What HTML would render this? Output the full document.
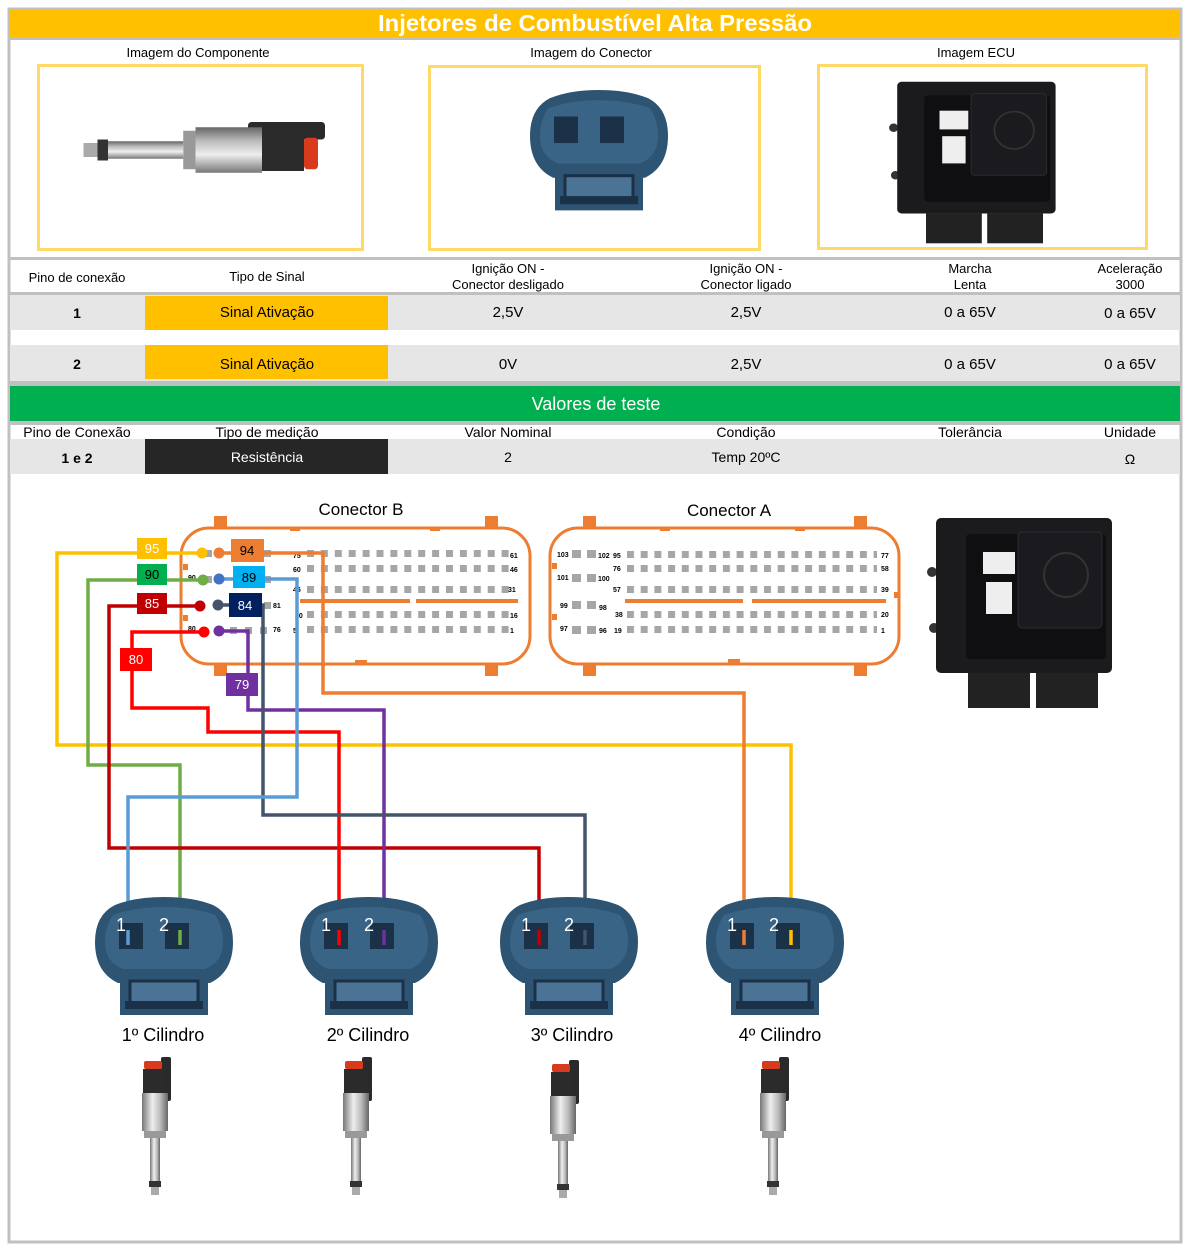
<!DOCTYPE html>
<html><head><meta charset="utf-8"><style>
html,body{margin:0;padding:0;background:#fff}
svg{display:block}
text{font-family:"Liberation Sans",sans-serif}
</style></head><body>
<svg width="1187" height="1249" viewBox="0 0 1187 1249" xmlns="http://www.w3.org/2000/svg">
<defs>
<linearGradient id="silv" x1="0" x2="1" y1="0" y2="0">
<stop offset="0" stop-color="#777"/><stop offset="0.4" stop-color="#eee"/><stop offset="0.7" stop-color="#bbb"/><stop offset="1" stop-color="#666"/>
</linearGradient>
<pattern id="pinB" x="307" y="0" width="13.9" height="1" patternUnits="userSpaceOnUse"><rect x="0" y="0" width="7" height="1" fill="#a6a6a6"/></pattern>
<pattern id="pinA" x="627" y="0" width="13.7" height="1" patternUnits="userSpaceOnUse"><rect x="0" y="0" width="7" height="1" fill="#a6a6a6"/></pattern>
<g id="conn">
<path d="M20,8 Q40,0 69,0 Q98,0 118,8 Q138,18 138,45 Q138,75 115,86 L113,86 L113,118 L25,118 L25,86 L23,86 Q0,75 0,45 Q0,18 20,8 Z" fill="#2e5474"/>
<path d="M18,18 Q40,10 69,10 Q98,10 120,18 Q128,30 128,45 Q128,65 110,72 L28,72 Q10,65 10,45 Q10,30 18,18Z" fill="#3a6486"/>
<rect x="24" y="26" width="24" height="26" fill="#1b3147"/>
<rect x="70" y="26" width="24" height="26" fill="#1b3147"/>
<rect x="35" y="84" width="68" height="22" fill="#4a7396" stroke="#1b3147" stroke-width="3"/>
<rect x="30" y="104" width="78" height="8" fill="#1b3147"/>
</g>
<g id="inj">
<rect x="26" y="0" width="10" height="44" fill="#2a2a2a" rx="2"/>
<rect x="9" y="4" width="18" height="8" fill="#d83a1e" rx="2"/>
<rect x="8" y="12" width="22" height="26" fill="#2b2b2b"/>
<rect x="7" y="36" width="26" height="38" fill="url(#silv)"/>
<rect x="9" y="74" width="22" height="7" fill="#999"/>
<rect x="15" y="81" width="10" height="44" fill="url(#silv)"/>
<rect x="14" y="124" width="12" height="6" fill="#333"/>
<rect x="16" y="130" width="8" height="8" fill="#aaa"/>
</g>
<g id="ecu">
<circle cx="4" cy="62" r="5" fill="#333"/><circle cx="6" cy="118" r="5" fill="#333"/>
<rect x="8" y="8" width="176" height="155" rx="5" fill="#1b1b1e"/>
<rect x="38" y="24" width="140" height="125" rx="4" fill="#0f0f12"/>
<rect x="90" y="22" width="84" height="96" rx="4" fill="#1a1a1f" stroke="#2c2c33"/>
<circle cx="138" cy="65" r="22" fill="none" stroke="#333" stroke-width="2"/>
<rect x="55" y="42" width="32" height="22" fill="#eee"/>
<rect x="58" y="72" width="26" height="32" fill="#eee"/>
<rect x="40" y="163" width="62" height="35" fill="#222"/>
<rect x="108" y="163" width="62" height="35" fill="#222"/>
</g>
</defs>

<rect x="9" y="9" width="1172" height="1233" fill="none" stroke="#c0c0c0" stroke-width="3"/>
<rect x="10" y="10" width="1170" height="27" fill="#ffc000"/>
<text x="595" y="31" text-anchor="middle" font-size="23" font-weight="bold" fill="#fff" textLength="434" lengthAdjust="spacingAndGlyphs">Injetores de Combustível Alta Pressão</text>
<rect x="10" y="37" width="1170" height="3" fill="#c0c0c0"/>

<text x="198" y="57" text-anchor="middle" font-size="13">Imagem do Componente</text>
<text x="591" y="57" text-anchor="middle" font-size="13">Imagem do Conector</text>
<text x="976" y="57" text-anchor="middle" font-size="13">Imagem ECU</text>
<rect x="38.5" y="65.5" width="324" height="184" fill="none" stroke="#ffd966" stroke-width="3"/>
<rect x="429.5" y="66.5" width="330" height="183" fill="none" stroke="#ffd966" stroke-width="3"/>
<rect x="818.5" y="65.5" width="328" height="183" fill="none" stroke="#ffd966" stroke-width="3"/>
<use href="#inj" transform="translate(325,150) scale(1.75) rotate(90) translate(20,0) scale(-1,1)"/>
<use href="#conn" transform="translate(530,90) scale(1,1.02)"/>
<use href="#ecu" transform="translate(890,75) scale(0.9,0.85)"/>

<rect x="10" y="257" width="1170" height="3" fill="#c0c0c0"/>
<g font-size="13" text-anchor="middle">
<text x="77" y="282">Pino de conexão</text>
<text x="267" y="281">Tipo de Sinal</text>
<text x="508" y="273">Ignição ON -</text><text x="508" y="289">Conector desligado</text>
<text x="746" y="273">Ignição ON -</text><text x="746" y="289">Conector ligado</text>
<text x="970" y="273">Marcha</text><text x="970" y="289">Lenta</text>
<text x="1130" y="273">Aceleração</text><text x="1130" y="289">3000</text>
</g>
<rect x="10" y="292" width="1170" height="3" fill="#c0c0c0"/>
<rect x="10" y="295" width="1170" height="35" fill="#e6e6e6"/>
<rect x="10" y="345" width="1170" height="36" fill="#e6e6e6"/>
<rect x="145" y="296" width="243" height="34" fill="#ffc000"/>
<rect x="145" y="345" width="243" height="34" fill="#ffc000"/>
<g font-size="15" text-anchor="middle">
<text x="77" y="318" font-weight="bold" font-size="14">1</text>
<text x="267" y="317">Sinal Ativação</text>
<text x="508" y="317">2,5V</text><text x="746" y="317">2,5V</text>
<text x="970" y="317">0 a 65V</text><text x="1130" y="318">0 a 65V</text>
<text x="77" y="369" font-weight="bold" font-size="14">2</text>
<text x="267" y="369">Sinal Ativação</text>
<text x="508" y="369">0V</text><text x="746" y="369">2,5V</text>
<text x="970" y="369">0 a 65V</text><text x="1130" y="369">0 a 65V</text>
</g>
<rect x="10" y="381" width="1170" height="5" fill="#c0c0c0"/>
<rect x="10" y="386" width="1170" height="35" fill="#00b050"/>
<text x="596" y="410" text-anchor="middle" font-size="18" fill="#fff">Valores de teste</text>
<rect x="10" y="421" width="1170" height="4" fill="#c0c0c0"/>
<rect x="10" y="439" width="1170" height="35" fill="#e6e6e6"/>
<rect x="145" y="439" width="243" height="35" fill="#262626"/>
<g font-size="14" text-anchor="middle">
<text x="77" y="437">Pino de Conexão</text><text x="267" y="437">Tipo de medição</text>
<text x="508" y="437">Valor Nominal</text><text x="746" y="437">Condição</text>
<text x="970" y="437">Tolerância</text><text x="1130" y="437">Unidade</text>
<text x="77" y="463" font-weight="bold">1 e 2</text>
<text x="267" y="462" fill="#fff">Resistência</text>
<text x="508" y="462">2</text><text x="746" y="462">Temp 20ºC</text>
<text x="1130" y="464">Ω</text>
</g>

<text x="361" y="515" text-anchor="middle" font-size="17">Conector B</text>
<g fill="#ed7d31">
<rect x="214" y="516" width="13" height="12"/><rect x="485" y="516" width="13" height="12"/>
<rect x="214" y="664" width="13" height="12"/><rect x="485" y="664" width="13" height="12"/>
<rect x="290" y="527" width="10" height="4"/><rect x="430" y="527" width="10" height="4"/><rect x="355" y="660" width="12" height="4"/>
<rect x="183" y="564" width="5" height="6"/><rect x="183" y="615" width="5" height="6"/>
<rect x="300" y="599" width="110" height="4"/><rect x="416" y="599" width="102" height="4"/>
</g>
<rect x="181" y="528" width="349" height="136" rx="28" fill="none" stroke="#ed7d31" stroke-width="3"/>
<rect x="307" y="550" width="205" height="7" fill="url(#pinB)"/>
<rect x="307" y="565" width="205" height="7" fill="url(#pinB)"/>
<rect x="307" y="586" width="205" height="7" fill="url(#pinB)"/>
<rect x="307" y="611" width="205" height="7" fill="url(#pinB)"/>
<rect x="307" y="626" width="205" height="7" fill="url(#pinB)"/>
<g fill="#a6a6a6"><rect x="205" y="550" width="7" height="7"/><rect x="264" y="550" width="7" height="7"/><rect x="205" y="576" width="7" height="7"/><rect x="264" y="576" width="7" height="7"/><rect x="264" y="602" width="7" height="7"/><rect x="230" y="627" width="7" height="7"/><rect x="245" y="627" width="7" height="7"/><rect x="260" y="627" width="7" height="7"/></g>
<g font-size="7" font-weight="bold">
<text x="510" y="558">61</text><text x="510" y="572">46</text><text x="508" y="592">31</text><text x="510" y="618">16</text><text x="510" y="633">1</text>
<text x="293" y="572">60</text><text x="293" y="633">5</text><text x="293" y="558">75</text><text x="293" y="592">45</text><text x="295" y="618">20</text>
<text x="273" y="608">81</text><text x="273" y="632">76</text><text x="188" y="631">80</text><text x="188" y="580">90</text>
</g>

<text x="729" y="516" text-anchor="middle" font-size="17">Conector A</text>
<g fill="#ed7d31">
<rect x="583" y="516" width="13" height="12"/><rect x="854" y="516" width="13" height="12"/>
<rect x="583" y="664" width="13" height="12"/><rect x="854" y="664" width="13" height="12"/>
<rect x="660" y="527" width="10" height="4"/><rect x="795" y="527" width="10" height="4"/><rect x="728" y="659" width="12" height="4"/>
<rect x="552" y="563" width="5" height="6"/><rect x="552" y="614" width="5" height="6"/><rect x="894" y="592" width="5" height="6"/>
<rect x="625" y="599" width="118" height="4"/><rect x="752" y="599" width="134" height="4"/>
</g>
<rect x="550" y="528" width="349" height="136" rx="28" fill="none" stroke="#ed7d31" stroke-width="3"/>
<rect x="627" y="551" width="250" height="7" fill="url(#pinA)"/>
<rect x="627" y="565" width="250" height="7" fill="url(#pinA)"/>
<rect x="627" y="586" width="250" height="7" fill="url(#pinA)"/>
<rect x="627" y="611" width="250" height="7" fill="url(#pinA)"/>
<rect x="627" y="626" width="250" height="7" fill="url(#pinA)"/>
<g fill="#a6a6a6"><rect x="572" y="550" width="9" height="8"/><rect x="587" y="550" width="9" height="8"/><rect x="572" y="574" width="9" height="8"/><rect x="587" y="574" width="9" height="8"/><rect x="572" y="601" width="9" height="8"/><rect x="587" y="601" width="9" height="8"/><rect x="572" y="626" width="9" height="8"/><rect x="587" y="626" width="9" height="8"/></g>
<g font-size="7" font-weight="bold">
<text x="557" y="557">103</text><text x="598" y="558">102</text><text x="613" y="558">95</text>
<text x="557" y="580">101</text><text x="598" y="581">100</text><text x="613" y="571">76</text><text x="613" y="592">57</text>
<text x="560" y="608">99</text><text x="599" y="610">98</text><text x="615" y="617">38</text>
<text x="560" y="631">97</text><text x="599" y="633">96</text><text x="614" y="633">19</text>
<text x="881" y="558">77</text><text x="881" y="571">58</text><text x="881" y="592">39</text><text x="881" y="617">20</text><text x="881" y="633">1</text>
</g>

<use href="#ecu" transform="translate(928,510)"/>

<g fill="none" stroke-width="3.5" stroke-linejoin="miter">
<polyline stroke="#ffc000" points="202,553 57,553 57,745 791,745 791,942"/>
<polyline stroke="#70ad47" points="203,580 88,580 88,765 180,765 180,942"/>
<polyline stroke="#c00000" points="200,606 109,606 109,848 539,848 539,942"/>
<polyline stroke="#ff0000" points="204,632 132,632 132,708 208,708 208,732 339,732 339,942"/>
<polyline stroke="#7030a0" points="219,631 248,631 248,710 384,710 384,942"/>
<polyline stroke="#44546a" points="218,605 263,605 263,815 585,815 585,942"/>
<polyline stroke="#5b9bd5" points="218,579 297,579 297,797 128,797 128,942"/>
<polyline stroke="#ed7d31" points="218,553 323,553 323,693 744,693 744,942"/>
</g>
<g>
<circle cx="202" cy="553" r="5.5" fill="#ffc000"/><circle cx="219" cy="553" r="5.5" fill="#ed7d31"/>
<circle cx="203" cy="580" r="5.5" fill="#70ad47"/><circle cx="219" cy="579" r="5.5" fill="#4472c4"/>
<circle cx="200" cy="606" r="5.5" fill="#c00000"/><circle cx="218" cy="605" r="5.5" fill="#44546a"/>
<circle cx="204" cy="632" r="5.5" fill="#ff0000"/><circle cx="219" cy="631" r="5.5" fill="#7030a0"/>
</g>
<g font-size="13" text-anchor="middle">
<rect x="137" y="538" width="30" height="21" fill="#ffc000"/><text x="152" y="553" fill="#fff">95</text>
<rect x="137" y="564" width="30" height="21" fill="#00b050"/><text x="152" y="579">90</text>
<rect x="137" y="593" width="30" height="21" fill="#c00000"/><text x="152" y="608" fill="#fff">85</text>
<rect x="120" y="648" width="32" height="23" fill="#ff0000"/><text x="136" y="664" fill="#fff">80</text>
<rect x="226" y="673" width="32" height="23" fill="#7030a0"/><text x="242" y="689" fill="#fff">79</text>
<rect x="231" y="539" width="33" height="23" fill="#ed7d31"/><text x="247" y="555">94</text>
<rect x="233" y="566" width="32" height="22" fill="#00b0f0"/><text x="249" y="582">89</text>
<rect x="229" y="593" width="33" height="24" fill="#002060"/><text x="245" y="610" fill="#fff">84</text>
</g>

<use href="#conn" x="95" y="897"/>
<use href="#conn" x="300" y="897"/>
<use href="#conn" x="500" y="897"/>
<use href="#conn" x="706" y="897"/>
<g fill="none" stroke-width="3.5">
<line stroke="#5b9bd5" x1="128" y1="930" x2="128" y2="945"/><line stroke="#70ad47" x1="180" y1="930" x2="180" y2="945"/>
<line stroke="#ff0000" x1="339" y1="930" x2="339" y2="945"/><line stroke="#7030a0" x1="384" y1="930" x2="384" y2="945"/>
<line stroke="#c00000" x1="539" y1="930" x2="539" y2="945"/><line stroke="#44546a" x1="585" y1="930" x2="585" y2="945"/>
<line stroke="#ed7d31" x1="744" y1="930" x2="744" y2="945"/><line stroke="#ffc000" x1="791" y1="930" x2="791" y2="945"/>
</g>
<g font-size="18" fill="#fff">
<text x="116" y="931">1</text><text x="159" y="931">2</text>
<text x="321" y="931">1</text><text x="364" y="931">2</text>
<text x="521" y="931">1</text><text x="564" y="931">2</text>
<text x="727" y="931">1</text><text x="769" y="931">2</text>
</g>
<g font-size="18" text-anchor="middle">
<text x="163" y="1041">1º Cilindro</text>
<text x="368" y="1041">2º Cilindro</text>
<text x="572" y="1041">3º Cilindro</text>
<text x="780" y="1041">4º Cilindro</text>
</g>
<use href="#inj" x="135" y="1057"/>
<use href="#inj" x="336" y="1057"/>
<use href="#inj" x="543" y="1060"/>
<use href="#inj" x="753" y="1057"/>
</svg>
</body></html>
